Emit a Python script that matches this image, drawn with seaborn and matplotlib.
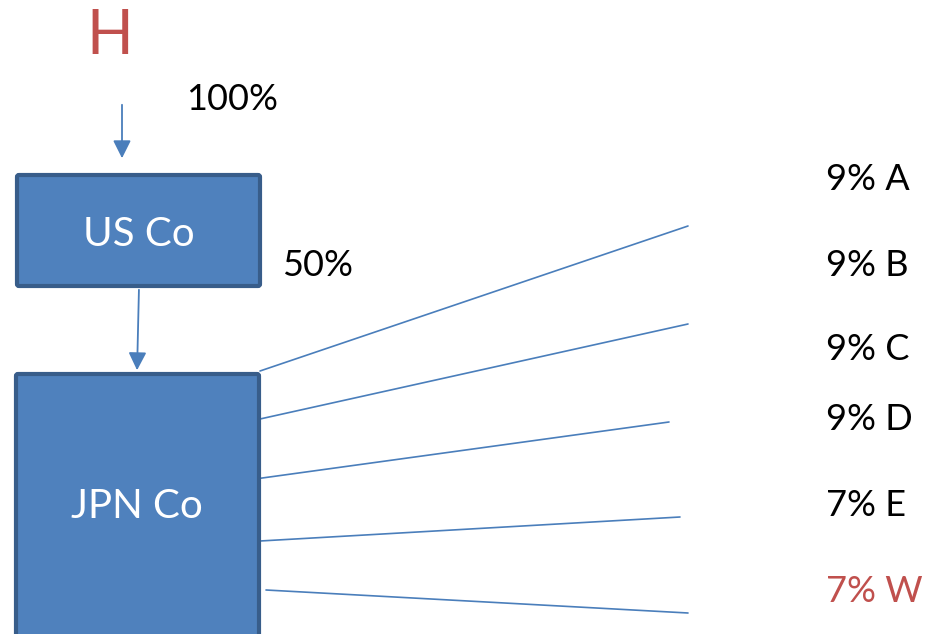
import matplotlib
matplotlib.use("Agg")
import matplotlib.pyplot as plt
import seaborn as sns
import pandas as pd
from matplotlib.patches import FancyBboxPatch

# ---- data ----
holder = "H"
holder_pct = "100%"
parent = "US Co"
parent_pct = "50%"
child = "JPN Co"
share_names = ["A", "B", "C", "D", "E", "W"]
share_pcts = [9, 9, 9, 9, 7, 7]
share_colors = ["black", "black", "black", "black", "black", "#C0504D"]

# ---- layout (pixel coordinates of the diagram) ----
start_x = [260, 260, 255, 260, 266]
start_y = [371, 419, 479, 541, 590]
end_x = [688, 688, 669, 680, 688]
end_y = [226, 324, 422, 517, 613]
label_y = [179, 266, 350, 419, 506, 591]

sns.set_theme(style="white")
plt.rcParams["font.family"] = ["Lato", "DejaVu Sans"]

fig = plt.figure(figsize=(9.34, 6.34), dpi=100)
ax = fig.add_axes([0, 0, 1, 1])

box_fill = "#4F81BD"
box_edge = "#385D8A"
line_col = "#4A7EBB"

# connecting lines via seaborn
rows = []
for i, (x0, y0, x1, y1) in enumerate(zip(start_x, start_y, end_x, end_y)):
    rows.append({"x": x0, "y": y0, "seg": i})
    rows.append({"x": x1, "y": y1, "seg": i})
df = pd.DataFrame(rows)
sns.lineplot(data=df, x="x", y="y", units="seg", estimator=None, sort=False,
             color=line_col, lw=1.2, ax=ax, legend=False)
ax.set_xlim(0, 934)
ax.set_ylim(634, 0)
ax.axis("off")

# boxes
ax.add_patch(FancyBboxPatch((17, 175), 243, 111, boxstyle="round,pad=0,rounding_size=2",
                            fc=box_fill, ec=box_edge, lw=3, zorder=3))
ax.add_patch(FancyBboxPatch((16, 374), 243, 270, boxstyle="round,pad=0,rounding_size=2",
                            fc=box_fill, ec=box_edge, lw=3, zorder=3))

# arrows
ax.annotate("", xy=(122, 161), xytext=(122, 102),
            arrowprops=dict(arrowstyle="-|>,head_length=0.9,head_width=0.45", color=line_col, lw=1.3))
ax.annotate("", xy=(137, 373), xytext=(139, 287),
            arrowprops=dict(arrowstyle="-|>,head_length=0.9,head_width=0.45", color=line_col, lw=1.3))

# texts
ax.text(110, 36, holder, color="#C0504D", fontsize=44, ha="center", va="center")
ax.text(186, 99, holder_pct, color="black", fontsize=26, ha="left", va="center")
ax.text(139, 234, parent, color="white", fontsize=29, ha="center", va="center", zorder=4)
ax.text(282, 265, parent_pct, color="black", fontsize=26, ha="left", va="center")
ax.text(137, 507, child, color="white", fontsize=29, ha="center", va="center", zorder=4)

for n, p, c, y in zip(share_names, share_pcts, share_colors, label_y):
    ax.text(826, y, f"{p}% {n}", color=c, fontsize=26, ha="left", va="center")

fig.savefig("out.png", dpi=100)
